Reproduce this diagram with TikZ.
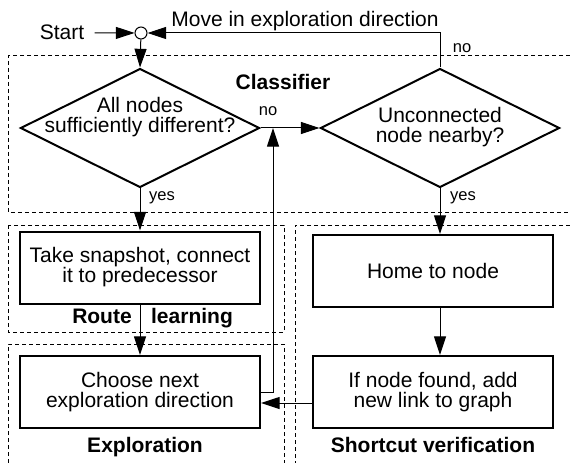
\documentclass[tikz,border=0pt]{standalone}
\usepackage{fontspec}
\setmainfont{Liberation Sans}
\usetikzlibrary{arrows.meta, shapes.geometric}
\tikzset{
  flow_txt/.style = {align=center, inner sep=0pt,
    font=\fontsize{15.75}{15}\selectfont},
  flow_box/.style = {flow_txt, rectangle, draw=black, line width=1.5pt,
    minimum width=180pt, minimum height=54pt},
  flow_dia/.style = {diamond, draw=black, line width=1.5pt, inner sep=0pt,
    minimum width=179.25pt, minimum height=89.25pt},
  grp_lbl/.style = {flow_txt, anchor=base, font=\fontsize{15.75}{15}\selectfont\bfseries},
  ans_lbl/.style = {inner sep=0pt, anchor=base, font=\fontsize{12.4}{12}\selectfont},
  grp_box/.style = {dash pattern=on 3pt off 2.25pt, line width=0.75pt}}

\begin{document}
\begin{tikzpicture}[x=0.75pt, y=-0.75pt, line width=0.75pt,
  >={Triangle[length=14pt, width=9pt]}]
\useasboundingbox (0,0) rectangle (570,463);

\draw[grp_box] (570,56) -- (8,56) -- (8,212) -- (570,212);
\draw[grp_box] (8,225) rectangle (284,332);
\draw[grp_box] (8,463) -- (8,344) -- (284,344) -- (284,463);
\draw[grp_box] (570,225) -- (295,225) -- (295,463);

\node [flow_txt, anchor=base] (start) at (62,40) {Start};
\node [draw, circle, inner sep=0pt, minimum size=9pt] (jn) at (141,33) {};
\node [flow_dia] (dia1) at (140,128) {};
\node [flow_txt] (dia1_t) at (140,117) {All nodes\\sufficiently different?};
\node [flow_dia] (dia2) at (440,128) {};
\node [flow_txt] (dia2_t) at (440,127) {Unconnected\\node nearby?};
\node [flow_box] (snap) at (140,267.5) {Take snapshot, connect\\it to predecessor};
\node [flow_box] (choose) at (140,392) {Choose next\\exploration direction};
\node [flow_box] (home) at (433,271) {Home to node};
\node [flow_box] (found) at (433,392) {If node found, add\\new link to graph};
\coordinate (merge) at (273,128);

\node [flow_txt, anchor=base] (move_lbl) at (305,27) {Move in exploration direction};
\node [ans_lbl] (no_top) at (462,53) {no};
\node [ans_lbl] (no_mid) at (268,116) {no};
\node [ans_lbl] (yes_l) at (162,200) {yes};
\node [ans_lbl] (yes_r) at (463,200) {yes};
\node [grp_lbl] (cls_lbl) at (283,90) {Classifier};
\node [grp_lbl] (rt_lbl) at (102,323) {Route};
\node [grp_lbl] (lrn_lbl) at (192,323) {learning};
\node [grp_lbl] (exp_lbl) at (145,452) {Exploration};
\node [grp_lbl] (sc_lbl) at (433,452) {Shortcut verification};

\draw[->, shorten <=7.5pt] (start) -- (jn);
\draw[->] (jn) -- (dia1.north);
\draw[->] (dia2.north) |- (jn);
\draw[->] (dia1.east) -- (dia2.west);
\draw[->] (dia1.south) -- (snap.north);
\draw[->] (snap.south) -- (choose.north);
\draw[->] (choose.east) -| (merge);
\draw[->] (dia2.south) -- (dia2.south |- home.north);
\draw[->] (dia2.south |- home.south) -- (dia2.south |- found.north);
\draw[->] ([yshift=-8.25pt]found.west) -- ([yshift=-8.25pt]found.west -| choose.east);
\end{tikzpicture}
\end{document}
